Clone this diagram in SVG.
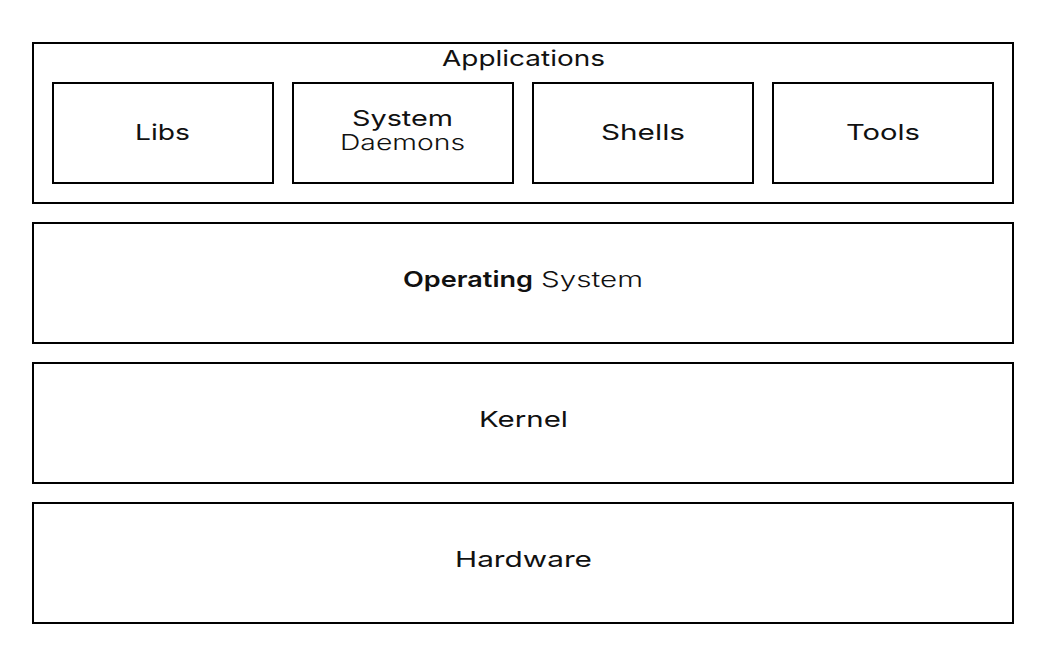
<svg xmlns="http://www.w3.org/2000/svg" width="1054" height="663" viewBox="0 0 1054 663">
<style>
.box{fill:#fff;stroke:#000;stroke-width:2}
text{font-family:Inter,"DejaVu Sans",sans-serif;font-size:22px;fill:#111;font-weight:400}
</style>
<rect width="1054" height="663" fill="#fff"/>
<g id="applications">
<rect class="box" x="33" y="43" width="980" height="160"/>
<text x="442" y="66" textLength="163" lengthAdjust="spacingAndGlyphs">Applications</text>
</g>
<g id="libs">
<rect class="box" x="53" y="83" width="220" height="100"/>
<text x="135" y="140" textLength="55" lengthAdjust="spacingAndGlyphs">Libs</text>
</g>
<g id="system-daemons">
<rect class="box" x="293" y="83" width="220" height="100"/>
<text x="352" y="126" textLength="101" lengthAdjust="spacingAndGlyphs">System</text>
<text x="340" y="150" textLength="125" lengthAdjust="spacingAndGlyphs" style="font-weight:300">Daemons</text>
</g>
<g id="shells">
<rect class="box" x="533" y="83" width="220" height="100"/>
<text x="601" y="140" textLength="84" lengthAdjust="spacingAndGlyphs">Shells</text>
</g>
<g id="tools">
<rect class="box" x="773" y="83" width="220" height="100"/>
<text x="846" y="140" textLength="74" lengthAdjust="spacingAndGlyphs">Tools</text>
</g>
<g id="operating-system">
<rect class="box" x="33" y="223" width="980" height="120"/>
<text x="403" y="287" textLength="130" lengthAdjust="spacingAndGlyphs" style="font-weight:600">Operating</text>
<text x="541" y="287" textLength="102" lengthAdjust="spacingAndGlyphs" style="font-weight:300">System</text>
</g>
<g id="kernel">
<rect class="box" x="33" y="363" width="980" height="120"/>
<text x="479" y="427" textLength="89" lengthAdjust="spacingAndGlyphs">Kernel</text>
</g>
<g id="hardware">
<rect class="box" x="33" y="503" width="980" height="120"/>
<text x="455" y="567" textLength="137" lengthAdjust="spacingAndGlyphs">Hardware</text>
</g>
<g id="connectors"/>
</svg>
